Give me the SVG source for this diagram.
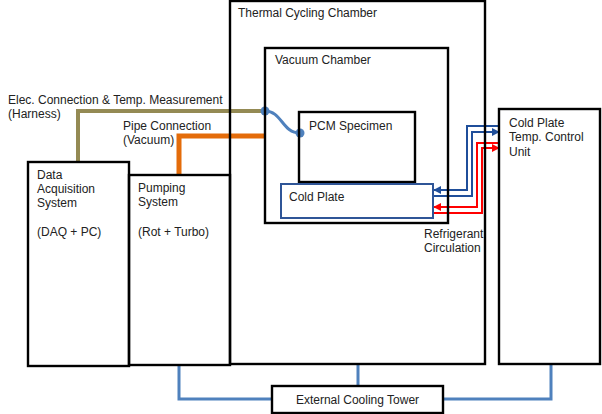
<svg xmlns="http://www.w3.org/2000/svg" width="602" height="414" viewBox="0 0 602 414">
<style>
.box{fill:none;stroke:#000;stroke-width:2.4}
.t{font-family:"Liberation Sans",Arial,sans-serif;font-size:12px;fill:#222}
.cool{fill:none;stroke:#4F81BD;stroke-width:3}
.rb{fill:none;stroke:#1F4E9A;stroke-width:2}
.rr{fill:none;stroke:#FF0000;stroke-width:2}
</style>
<defs>
<marker id="ab" viewBox="0 0 10 10" refX="9" refY="5" markerWidth="4" markerHeight="4" orient="auto"><path d="M0,0 L10,5 L0,10 z" fill="#1F4E9A"/></marker>
<marker id="ar" viewBox="0 0 10 10" refX="9" refY="5" markerWidth="4" markerHeight="4" orient="auto"><path d="M0,0 L10,5 L0,10 z" fill="#FF0000"/></marker>
</defs>
<rect width="602" height="414" fill="#fff"/>
<g id="connectors">
<path class="cool" d="M179,365 V399 H272"/>
<path class="cool" d="M358,364 V386"/>
<path class="cool" d="M443,399 H551 V364"/>
<path d="M78,162 V111 H265" fill="none" stroke="#948A54" stroke-width="4"/>
<path d="M179,175 V136 H265" fill="none" stroke="#E46C0A" stroke-width="5"/>
<path d="M265,111 C282,111 282,133 300,133" fill="none" stroke="#4F81BD" stroke-width="3"/>
<circle cx="265" cy="111" r="4.5" fill="#4F81BD"/>
<circle cx="300" cy="133" r="4.5" fill="#4F81BD"/>
<path class="rb" d="M499,126 H467 V190 H434" marker-end="url(#ab)"/>
<path class="rb" d="M434,196 H472 V132 H499" marker-end="url(#ab)"/>
<path class="rr" d="M499,143 H477 V207 H434" marker-end="url(#ar)"/>
<path class="rr" d="M434,213 H482 V148 H499" marker-end="url(#ar)"/>
</g>
<g id="tcc"><rect class="box" x="230" y="1" width="255" height="363"/><text class="t" x="238" y="17" textLength="139">Thermal Cycling Chamber</text></g>
<g id="vacuum"><rect class="box" x="265" y="48" width="183" height="175"/><text class="t" x="275" y="64">Vacuum Chamber</text></g>
<g id="pcm"><rect class="box" x="299" y="112" width="116" height="70"/><text class="t" x="309" y="130">PCM Specimen</text></g>
<g id="coldplate"><rect x="281" y="184" width="152" height="34" fill="#fff" stroke="#2F5597" stroke-width="2"/><text class="t" x="289" y="201">Cold Plate</text></g>
<g id="daq"><rect class="box" x="28" y="162" width="101" height="204"/>
<text class="t" x="37" y="179">Data</text><text class="t" x="37" y="193">Acquisition</text><text class="t" x="37" y="207">System</text><text class="t" x="37" y="236">(DAQ + PC)</text></g>
<g id="pump"><rect class="box" x="129" y="175" width="101" height="190"/>
<text class="t" x="138" y="192">Pumping</text><text class="t" x="138" y="206">System</text><text class="t" x="138" y="236">(Rot + Turbo)</text></g>
<g id="unit"><rect class="box" x="499" y="109" width="101" height="255"/>
<text class="t" x="509" y="127">Cold Plate</text><text class="t" x="509" y="141">Temp. Control</text><text class="t" x="509" y="156">Unit</text></g>
<g id="tower"><rect class="box" x="272" y="386" width="171" height="27"/><text class="t" x="357.5" y="404" text-anchor="middle">External Cooling Tower</text></g>
<g id="labels">
<text class="t" x="8" y="104">Elec. Connection &amp; Temp. Measurement</text>
<text class="t" x="8" y="118">(Harness)</text>
<text class="t" x="123" y="130">Pipe Connection</text>
<text class="t" x="123" y="144">(Vacuum)</text>
<text class="t" x="424" y="238">Refrigerant</text>
<text class="t" x="424" y="252">Circulation</text>
</g>
</svg>
